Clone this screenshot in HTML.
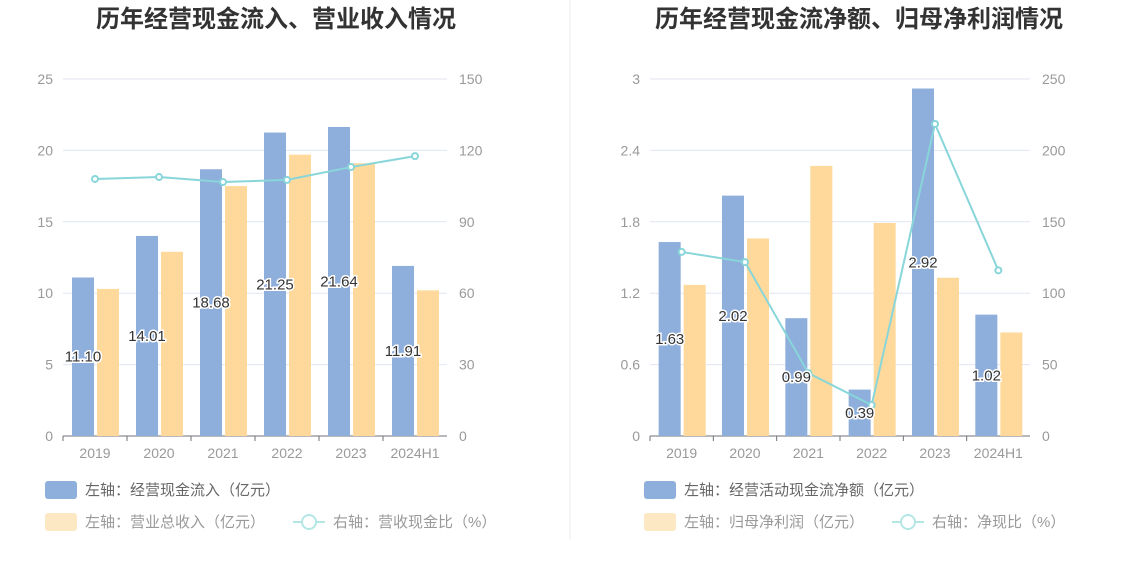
<!DOCTYPE html>
<html><head><meta charset="utf-8"><style>
body{margin:0;background:#fff;font-family:"Liberation Sans","Noto Sans CJK SC",sans-serif;}
svg text{font-family:"Liberation Sans","Noto Sans CJK SC",sans-serif;}
</style></head><body>
<svg id="c" width="1134" height="582">
<line x1="570" y1="0" x2="570" y2="540" stroke="#e8ecf2"/>
<text x="276" y="27" text-anchor="middle" font-size="24" font-weight="bold" fill="#333">历年经营现金流入、营业收入情况</text>
<text x="859" y="27" text-anchor="middle" font-size="24" font-weight="bold" fill="#333">历年经营现金流净额、归母净利润情况</text>
<g id="g1"></g><g id="g2"></g>
<g>
<rect x="45" y="481" width="32" height="18" rx="3" fill="#8eaedc"/>
<text x="85" y="495" font-size="15" fill="#666">左轴：经营现金流入（亿元）</text>
<rect x="45" y="513" width="32" height="18" rx="3" fill="#fde8c4"/>
<text x="85" y="527" font-size="15" fill="#999">左轴：营业总收入（亿元）</text>
<line x1="293" y1="522" x2="325" y2="522" stroke="#b5e6e6" stroke-width="2"/>
<circle cx="309" cy="522" r="7" fill="#fff" stroke="#b5e6e6" stroke-width="2"/>
<text x="333" y="527" font-size="15" fill="#999">右轴：营收现金比（%）</text>
</g>
<g>
<rect x="644" y="481" width="32" height="18" rx="3" fill="#8eaedc"/>
<text x="684" y="495" font-size="15" fill="#666">左轴：经营活动现金流净额（亿元）</text>
<rect x="644" y="513" width="32" height="18" rx="3" fill="#fde8c4"/>
<text x="684" y="527" font-size="15" fill="#999">左轴：归母净利润（亿元）</text>
<line x1="892" y1="522" x2="924" y2="522" stroke="#b5e6e6" stroke-width="2"/>
<circle cx="908" cy="522" r="7" fill="#fff" stroke="#b5e6e6" stroke-width="2"/>
<text x="932" y="527" font-size="15" fill="#999">右轴：净现比（%）</text>
</g>
</svg>
<script>
const categories=["2019","2020","2021","2022","2023","2024H1"];
const inflow=[11.10,14.01,18.68,21.25,21.64,11.91];
const revenue=[10.3,12.9,17.5,19.7,19.1,10.2];
const cashRatio=[108,108.8,106.7,107.6,113,117.6];
const leftTicks=[0,5,10,15,20,25];
const rightTicks1=[0,30,60,90,120,150];
const netCash=[1.63,2.02,0.99,0.39,2.92,1.02];
const profit=[1.27,1.66,2.27,1.79,1.33,0.87];
const netRatio=[128.9,121.8,44,21.7,218.5,116];
const leftTicks2=["0","0.6","1.2","1.8","2.4","3"];
const rightTicks2=[0,50,100,150,200,250];
const NS="http://www.w3.org/2000/svg";
function mk(p,t,a,txt){const e=document.createElementNS(NS,t);for(const k in a)e.setAttribute(k,a[k]);if(txt!=null)e.textContent=txt;p.appendChild(e);return e;}
function draw(gid,x0,x1,lmax,rmax,lt,rt,blue,orange,line,fmt,pfx){
 const g=document.getElementById(gid);const y0=436,yt=79;
 const yl=v=>y0-(v/lmax)*(y0-yt), yr=v=>y0-(v/rmax)*(y0-yt);
 const bw=(x1-x0)/categories.length, xc=i=>x0+bw*(i+0.5);
 lt.forEach((t,i)=>{const y=y0-i*(y0-yt)/(lt.length-1);
  if(i>0){const gl=mk(g,'line',{x1:x0,x2:x1,y1:y,y2:y,stroke:'#e0e6f1'});}
  const a=mk(g,'text',{x:x0-10,y:y+5,'text-anchor':'end','font-size':14,fill:'#999'},t);
  const b=mk(g,'text',{x:x1+12,y:y+5,'font-size':14,fill:'#999'},rt[i]);});
 const ax=mk(g,'line',{x1:x0,x2:x1,y1:y0,y2:y0,stroke:'#6e7079'});
 categories.forEach((c,i)=>{
  const tk=mk(g,'line',{x1:x0+bw*i,x2:x0+bw*i,y1:y0,y2:y0+5,stroke:'#6e7079'});
  const t=mk(g,'text',{x:xc(i),y:y0+22,'text-anchor':'middle','font-size':14,fill:'#999'},c);
  const b=mk(g,'rect',{x:xc(i)-23,y:yl(blue[i]),width:22,height:y0-yl(blue[i]),fill:'#8eaedc'});
  const o=mk(g,'rect',{x:xc(i)+2,y:yl(orange[i]),width:22,height:y0-yl(orange[i]),fill:'#fed99b'});});
 const pts=line.map((v,i)=>xc(i)+','+yr(v)).join(' ');
 const pl=mk(g,'polyline',{points:pts,fill:'none',stroke:'#88d6d9','stroke-width':2});
 line.forEach((v,i)=>{const p=mk(g,'circle',{cx:xc(i),cy:yr(v),r:3,fill:'#fff',stroke:'#88d6d9','stroke-width':2});});
 blue.forEach((v,i)=>{const y=(yl(v)+y0)/2+5;
  const t=mk(g,'text',{x:xc(i)-12,y:y,'text-anchor':'middle','font-size':15,fill:'#333',stroke:'#fff','stroke-width':3,'paint-order':'stroke'},fmt(v));});
}
draw('g1',63,447,25,150,leftTicks,rightTicks1,inflow,revenue,cashRatio,v=>v.toFixed(2),'left');
draw('g2',650,1030,3,250,leftTicks2,rightTicks2,netCash,profit,netRatio,v=>v.toFixed(2),'right');
</script>
</body></html>
